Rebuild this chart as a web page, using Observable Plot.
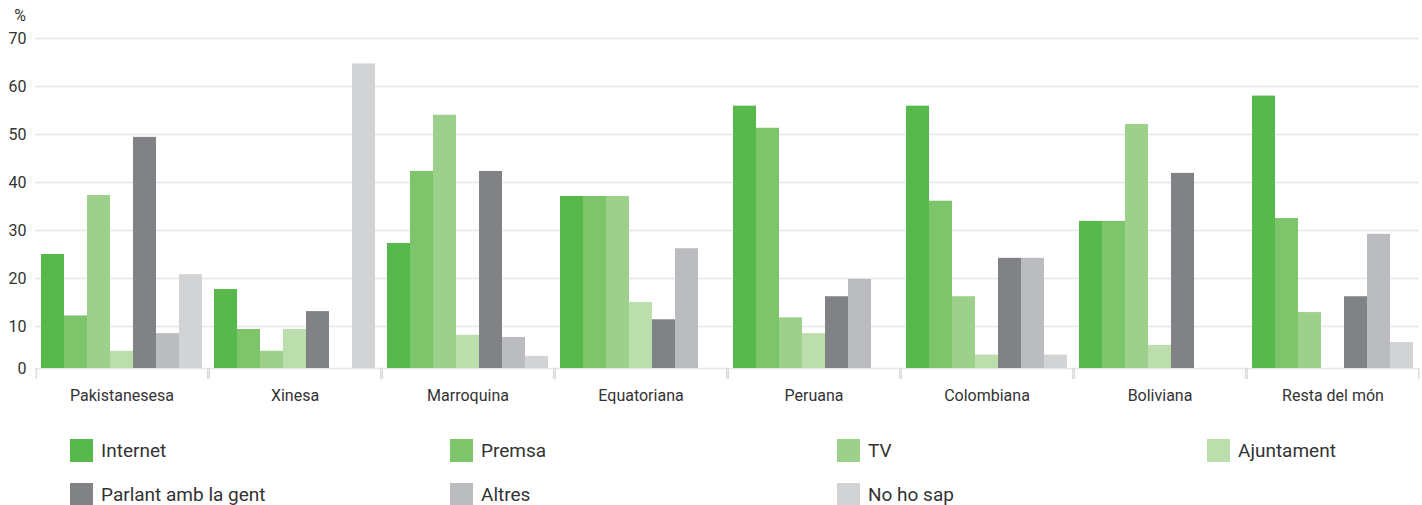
<!DOCTYPE html>
<html><head><meta charset="utf-8">
<script src="https://cdn.jsdelivr.net/npm/d3@7"></script>
<script src="https://cdn.jsdelivr.net/npm/@observablehq/plot@0.6"></script>
<style>
body{margin:0;background:#fff;font-family:Roboto,sans-serif;}
#wrap{position:relative;width:1422px;height:505px;}
#pct{position:absolute;left:0;width:26px;text-align:right;top:6px;font-size:16px;color:#333;line-height:20px;}
.leg{position:absolute;display:flex;align-items:center;font-size:19px;color:#333;height:23px;}
.sw{width:23px;height:23px;margin-right:8px;flex:none;}
svg{display:block;}
</style></head><body><div id="wrap"><div id="pct">%</div></div>
<script>
const groups = ["Pakistanesesa", "Xinesa", "Marroquina", "Equatoriana", "Peruana", "Colombiana", "Boliviana", "Resta del món"];
const series = ["Internet", "Premsa", "TV", "Ajuntament", "Parlant amb la gent", "Altres", "No ho sap"];
const colors = ["#57b84b", "#7ec46a", "#9dd08b", "#bcdead", "#818285", "#bbbcbf", "#d2d3d5"];
const yTicks = [0, 10, 20, 30, 40, 50, 60, 70];

const internet   = [25.0, 17.7, 27.3, 37.1, 55.9, 55.9, 31.9, 58.0];
const premsa     = [12.2,  9.3, 42.3, 37.1, 51.3, 36.1, 31.9, 32.5];
const tv         = [37.3,  4.1, 54.0, 37.1, 11.8, 16.2, 52.1, 12.9];
const ajuntament = [ 4.1,  9.3,  7.9, 15.0,  8.3,  3.2,  5.5,  0];
const parlant    = [49.4, 13.1, 42.3, 11.4, 16.2, 24.2, 41.9, 16.2];
const altres     = [ 8.3,  0,    7.4, 26.2, 19.8, 24.2,  0,   29.2];
const noHoSap    = [20.8, 64.7,  2.9,  0,    0,    3.2,  0,    6.2];

const valuesBySeries = [internet, premsa, tv, ajuntament, parlant, altres, noHoSap];
const rows = [];
groups.forEach((g, i) => series.forEach((s, j) => rows.push({group: g, series: s, value: valuesBySeries[j][i]})));

const W = 1422, mL = 35, mR = 3;
const step = (W - mL - mR) / groups.length;
const halfGap = 5;
const bw = (step - 2 * halfGap) / series.length;

const chart = Plot.plot({
  width: W, height: 420,
  marginTop: 38, marginBottom: 52, marginLeft: mL, marginRight: mR,
  style: {fontFamily: "Roboto, sans-serif", fontSize: "16px", color: "#333", background: "#fff"},
  facet: {data: rows, x: "group"},
  fx: {domain: groups, paddingInner: 2 * halfGap / step, paddingOuter: halfGap / step, label: null, tickSize: 0, tickPadding: 21},
  x: {domain: series, padding: 0, axis: null},
  y: {type: "linear", domain: [0, 10, 70], range: [368, 326, 38], ticks: yTicks, tickSize: 0, tickPadding: 14, label: null},
  color: {domain: series, range: colors},
  marks: [
    Plot.ruleY(yTicks, {stroke: "#e6e6e6", strokeWidth: 1.5, insetLeft: -halfGap, insetRight: -halfGap}),
    Plot.barY(rows, {x: "series", y: "value", fill: "series"}),
    Plot.ruleX([series[0]], {y1: 0, y2: 0, insetBottom: -11, dx: -(bw / 2 + halfGap), stroke: "#dcdcdc", strokeWidth: 1.5}),
    Plot.ruleX([series[series.length - 1]], {y1: 0, y2: 0, insetBottom: -11, dx: (bw / 2 + halfGap), stroke: "#dcdcdc", strokeWidth: 1.5})
  ]
});
const wrap = document.getElementById("wrap");
wrap.appendChild(chart);

const legLeft = [70, 450, 837, 1207];
const legTop = [439, 483];
series.forEach((s, j) => {
  const d = document.createElement("div");
  d.className = "leg";
  d.style.left = legLeft[j % 4] + "px";
  d.style.top = legTop[Math.floor(j / 4)] + "px";
  const sw = document.createElement("span");
  sw.className = "sw";
  sw.style.background = colors[j];
  const t = document.createElement("span");
  t.textContent = s;
  d.appendChild(sw); d.appendChild(t);
  wrap.appendChild(d);
});
</script></body></html>
